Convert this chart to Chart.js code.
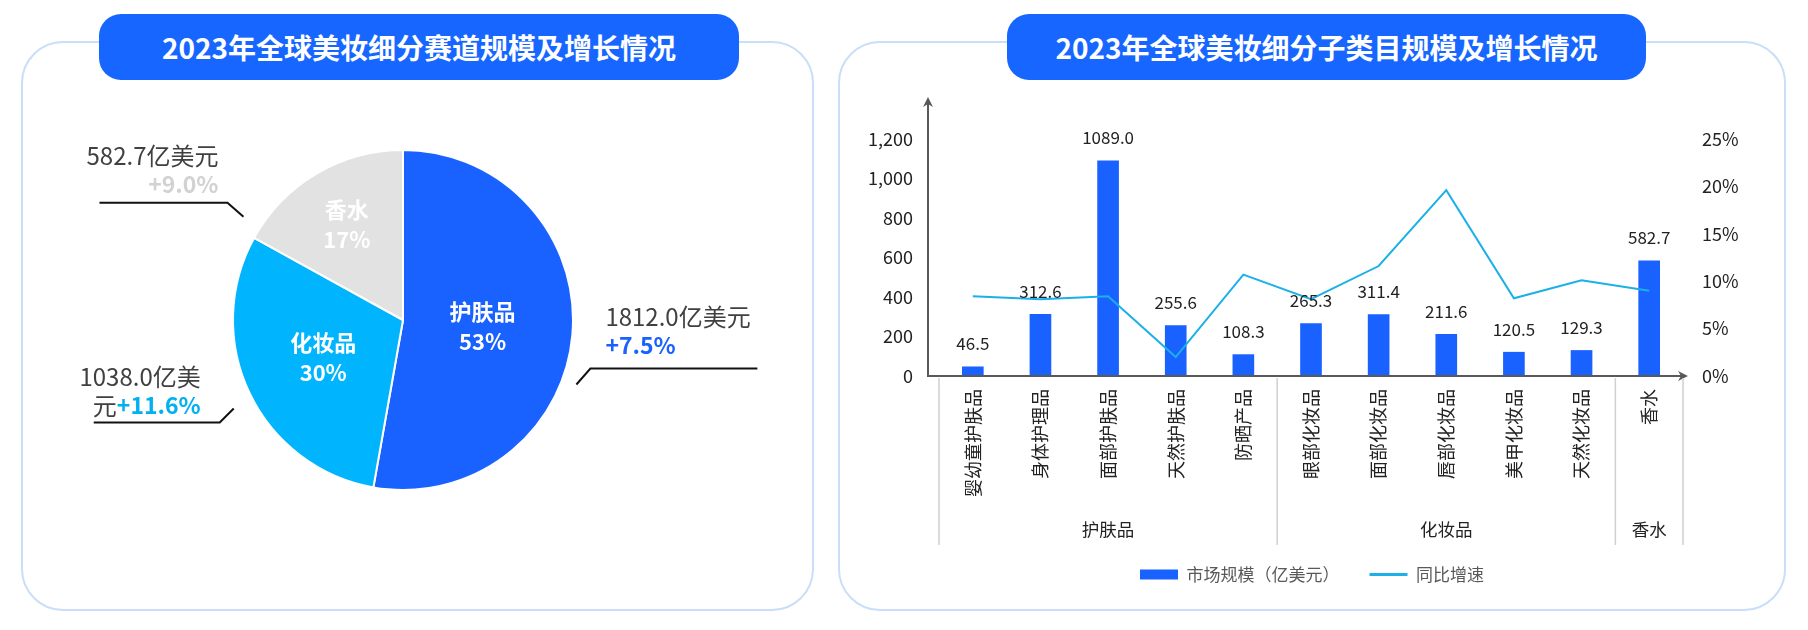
<!DOCTYPE html>
<html>
<head>
<meta charset="utf-8">
<script src="https://cdn.jsdelivr.net/npm/chart.js@4.4.1/dist/chart.umd.min.js"></script>
<style>
  body { margin: 0; width: 1808px; height: 630px; background: #fff; position: relative; overflow: hidden;
         font-family: "Noto Sans CJK SC", "Noto Sans", sans-serif; }
  .panel { position: absolute; top: 41px; height: 570px; box-sizing: border-box;
           border: 2px solid #C9DEF7; border-radius: 42px; }
  .pill { position: absolute; top: 14px; height: 66px; background: #1766FF; border-radius: 22px;
          color: #fff; font-weight: bold; font-size: 28px; line-height: 66px; text-align: center; }
  .box { position: absolute; top: 42px; height: 568px; }
</style>
</head>
<body>
<div class="panel" style="left:21px;width:793px"></div>
<div class="panel" style="left:838px;width:948px"></div>
<div class="box" style="left:22px;width:791px"><canvas id="pie" width="791" height="568"></canvas></div>
<div class="box" style="left:839px;width:946px"><canvas id="combo" width="946" height="568"></canvas></div>
<div class="pill" style="left:99px;width:640px">2023年全球美妆细分赛道规模及增长情况</div>
<div class="pill" style="left:1007px;width:639px">2023年全球美妆细分子类目规模及增长情况</div>

<script>
// left chart: segments
const segNames = ['护肤品', '化妆品', '香水'];
const segValues = [1812.0, 1038.0, 582.7];
const segGrowth = ['+7.5%', '+11.6%', '+9.0%'];

// right chart: sub categories
const subNames = ['婴幼童护肤品', '身体护理品', '面部护肤品', '天然护肤品', '防晒产品',
                  '眼部化妆品', '面部化妆品', '唇部化妆品', '美甲化妆品', '天然化妆品', '香水'];
const subSize = [46.5, 312.6, 1089.0, 255.6, 108.3, 265.3, 311.4, 211.6, 120.5, 129.3, 582.7];
const subGrowth = [8.4, 8.1, 8.4, 2.0, 10.7, 8.1, 11.6, 19.6, 8.2, 10.1, 9.0];
const groupNames = ['护肤品', '化妆品', '香水'];
const groupSizes = [5, 5, 1];

const FONT = '"Noto Sans CJK SC", "Noto Sans", sans-serif';
const segColors = ['#1A62FF', '#00B4FE', '#E2E2E2'];
const growthColors = ['#1A62FF', '#00B0F0', '#D2D2D2'];

// label layout around the pie (angle clockwise from top)
const outer = [
  { deg: 110.4, gap: 15, dx: 14, dy: -16, len: 167, align: 'left', tx: 15, ty: [-52, -23], wrap: null },
  { deg: 242.4, gap: 21, dx: -14, dy: 14, len: -126, align: 'right', tx: -19, ty: [-46, -17], wrap: 8 },
  { deg: 302.9, gap: 20, dx: -16, dy: -14, len: -128, align: 'right', tx: -9, ty: [-47, -19], wrap: null }
];
const insideR = [0.47, 0.52, 0.65];

const pieLabels = {
  id: 'pieLabels',
  afterDatasetsDraw(chart) {
    const ctx = chart.ctx;
    const total = segValues.reduce((a, b) => a + b, 0);
    chart.getDatasetMeta(0).data.forEach((arc, i) => {
      const { x, y, startAngle, endAngle, outerRadius } = arc.getProps(['x', 'y', 'startAngle', 'endAngle', 'outerRadius'], true);
      // inside
      const mid = (startAngle + endAngle) / 2;
      const r = outerRadius * insideR[i];
      const cx = x + Math.cos(mid) * r, cy = y + Math.sin(mid) * r;
      ctx.save();
      ctx.fillStyle = '#fff';
      ctx.font = 'bold 22px ' + FONT;
      ctx.textAlign = 'center';
      ctx.textBaseline = 'middle';
      ctx.fillText(segNames[i], cx, cy - 15);
      ctx.fillText(Math.round(segValues[i] / total * 100) + '%', cx, cy + 15);

      // leader line
      const o = outer[i];
      const a = (o.deg - 90) * Math.PI / 180;
      const sx = x + Math.cos(a) * (outerRadius + o.gap), sy = y + Math.sin(a) * (outerRadius + o.gap);
      const ex = sx + o.dx, ey = sy + o.dy;
      ctx.strokeStyle = '#111';
      ctx.lineWidth = 2;
      ctx.beginPath();
      ctx.moveTo(sx, sy);
      ctx.lineTo(ex, ey);
      ctx.lineTo(ex + o.len, ey);
      ctx.stroke();

      // texts
      const valText = segValues[i].toFixed(1) + '亿美元';
      const tx = ex + o.tx;
      const line1 = o.wrap ? valText.slice(0, o.wrap) : valText;
      const rest = o.wrap ? valText.slice(o.wrap) : '';
      ctx.textAlign = o.align;
      ctx.fillStyle = '#404040';
      ctx.font = '24px ' + FONT;
      ctx.fillText(line1, tx, ey + o.ty[0]);
      ctx.font = 'bold 23px ' + FONT;
      const gw = ctx.measureText(segGrowth[i]).width;
      ctx.fillStyle = growthColors[i];
      ctx.fillText(segGrowth[i], tx, ey + o.ty[1]);
      if (rest && o.align === 'right') {
        ctx.font = '24px ' + FONT;
        ctx.fillStyle = '#404040';
        ctx.fillText(rest, tx - gw, ey + o.ty[1]);
      }
      ctx.restore();
    });
  }
};

new Chart(document.getElementById('pie'), {
  type: 'pie',
  data: {
    labels: segNames,
    datasets: [{ data: segValues, backgroundColor: segColors, borderColor: '#fff', borderWidth: 2, hoverOffset: 0 }]
  },
  options: {
    responsive: false,
    animation: false,
    layout: { padding: { left: 210, right: 239, top: 107, bottom: 119 } },
    plugins: { legend: { display: false }, tooltip: { enabled: false } }
  },
  plugins: [pieLabels]
});

// axes with arrows, group brackets, value labels
const comboDeco = {
  id: 'comboDeco',
  afterDatasetsDraw(chart) {
    const ctx = chart.ctx;
    const area = chart.chartArea;
    const xs = chart.scales.x;
    ctx.save();
    // value labels
    ctx.fillStyle = '#222';
    ctx.font = '17px ' + FONT;
    ctx.textAlign = 'center';
    ctx.textBaseline = 'middle';
    chart.getDatasetMeta(0).data.forEach((bar, i) => {
      ctx.fillText(subSize[i].toFixed(1), bar.x, bar.y - 23);
    });
    // axis lines
    const ax = area.left - 11, ay = area.bottom;
    ctx.strokeStyle = '#595959';
    ctx.fillStyle = '#595959';
    ctx.lineWidth = 2;
    ctx.beginPath();
    ctx.moveTo(ax, ay);
    ctx.lineTo(ax, area.top - 38);
    ctx.moveTo(ax - 1, ay);
    ctx.lineTo(area.right + 1, ay);
    ctx.stroke();
    const head = (px, py, dirx, diry) => {
      const nx = -diry, ny = dirx;
      ctx.beginPath();
      ctx.moveTo(px, py);
      ctx.lineTo(px - dirx * 10 + nx * 5, py - diry * 10 + ny * 5);
      ctx.lineTo(px - dirx * 7, py - diry * 7);
      ctx.lineTo(px - dirx * 10 - nx * 5, py - diry * 10 - ny * 5);
      ctx.closePath();
      ctx.fill();
    };
    head(ax, area.top - 42, 0, -1);
    head(area.right + 5, ay, 1, 0);
    // group separators and names
    const step = xs.getPixelForValue(1) - xs.getPixelForValue(0);
    ctx.strokeStyle = '#D0D0D0';
    ctx.lineWidth = 1.5;
    let idx = 0;
    const edges = [xs.getPixelForValue(0) - step / 2];
    ctx.fillStyle = '#222';
    ctx.font = '17.5px ' + FONT;
    groupNames.forEach((g, k) => {
      const first = idx, last = idx + groupSizes[k] - 1;
      const cx = (xs.getPixelForValue(first) + xs.getPixelForValue(last)) / 2;
      ctx.fillText(g, cx, 487);
      edges.push(xs.getPixelForValue(last) + step / 2);
      idx += groupSizes[k];
    });
    ctx.beginPath();
    edges.forEach(e => { ctx.moveTo(e, ay + 2); ctx.lineTo(e, 503); });
    ctx.stroke();
    ctx.restore();
  }
};

new Chart(document.getElementById('combo'), {
  data: {
    labels: subNames,
    datasets: [
      { type: 'bar', label: '市场规模（亿美元）', data: subSize, backgroundColor: '#1A62FF',
        barThickness: 21, yAxisID: 'y', order: 1 },
      { type: 'line', label: '同比增速', data: subGrowth, borderColor: '#1BB0E8', borderWidth: 2,
        pointRadius: 0, tension: 0, yAxisID: 'y1', order: 0 }
    ]
  },
  options: {
    responsive: false,
    animation: false,
    layout: { padding: { top: 97, left: 0, right: 0, bottom: 17 } },
    scales: {
      x: {
        grid: { display: false }, border: { display: false },
        ticks: { minRotation: 90, maxRotation: 90, padding: 5, color: '#222', font: { size: 18, family: FONT } },
        afterFit(s) { s.height = 160; }
      },
      y: {
        position: 'left', min: 0, max: 1200,
        grid: { display: false, drawTicks: false }, border: { display: false },
        ticks: { stepSize: 200, padding: 26, color: '#222', font: { size: 18, family: FONT } },
        afterFit(s) { s.width = 100; }
      },
      y1: {
        position: 'right', min: 0, max: 25,
        grid: { display: false, drawTicks: false }, border: { display: false },
        ticks: { stepSize: 5, padding: 19, color: '#222', font: { size: 18, family: FONT }, callback: v => v + '%' },
        afterFit(s) { s.width = 102; }
      }
    },
    plugins: {
      tooltip: { enabled: false },
      legend: {
        position: 'bottom',
        labels: {
          usePointStyle: true, pointStyleWidth: 38, boxHeight: 10, padding: 30,
          color: '#595959', font: { size: 17, family: FONT },
          sort: (a, b) => a.datasetIndex - b.datasetIndex,
          generateLabels(chart) {
            const items = Chart.defaults.plugins.legend.labels.generateLabels(chart);
            items.forEach(it => {
              const ds = chart.data.datasets[it.datasetIndex];
              if (ds.type === 'line') { it.pointStyle = 'line'; it.lineWidth = 3; it.strokeStyle = ds.borderColor; }
              else { it.pointStyle = 'rect'; it.lineWidth = 0; it.fillStyle = ds.backgroundColor; }
            });
            return items;
          }
        }
      }
    }
  },
  plugins: [comboDeco]
});
</script>
</body>
</html>
